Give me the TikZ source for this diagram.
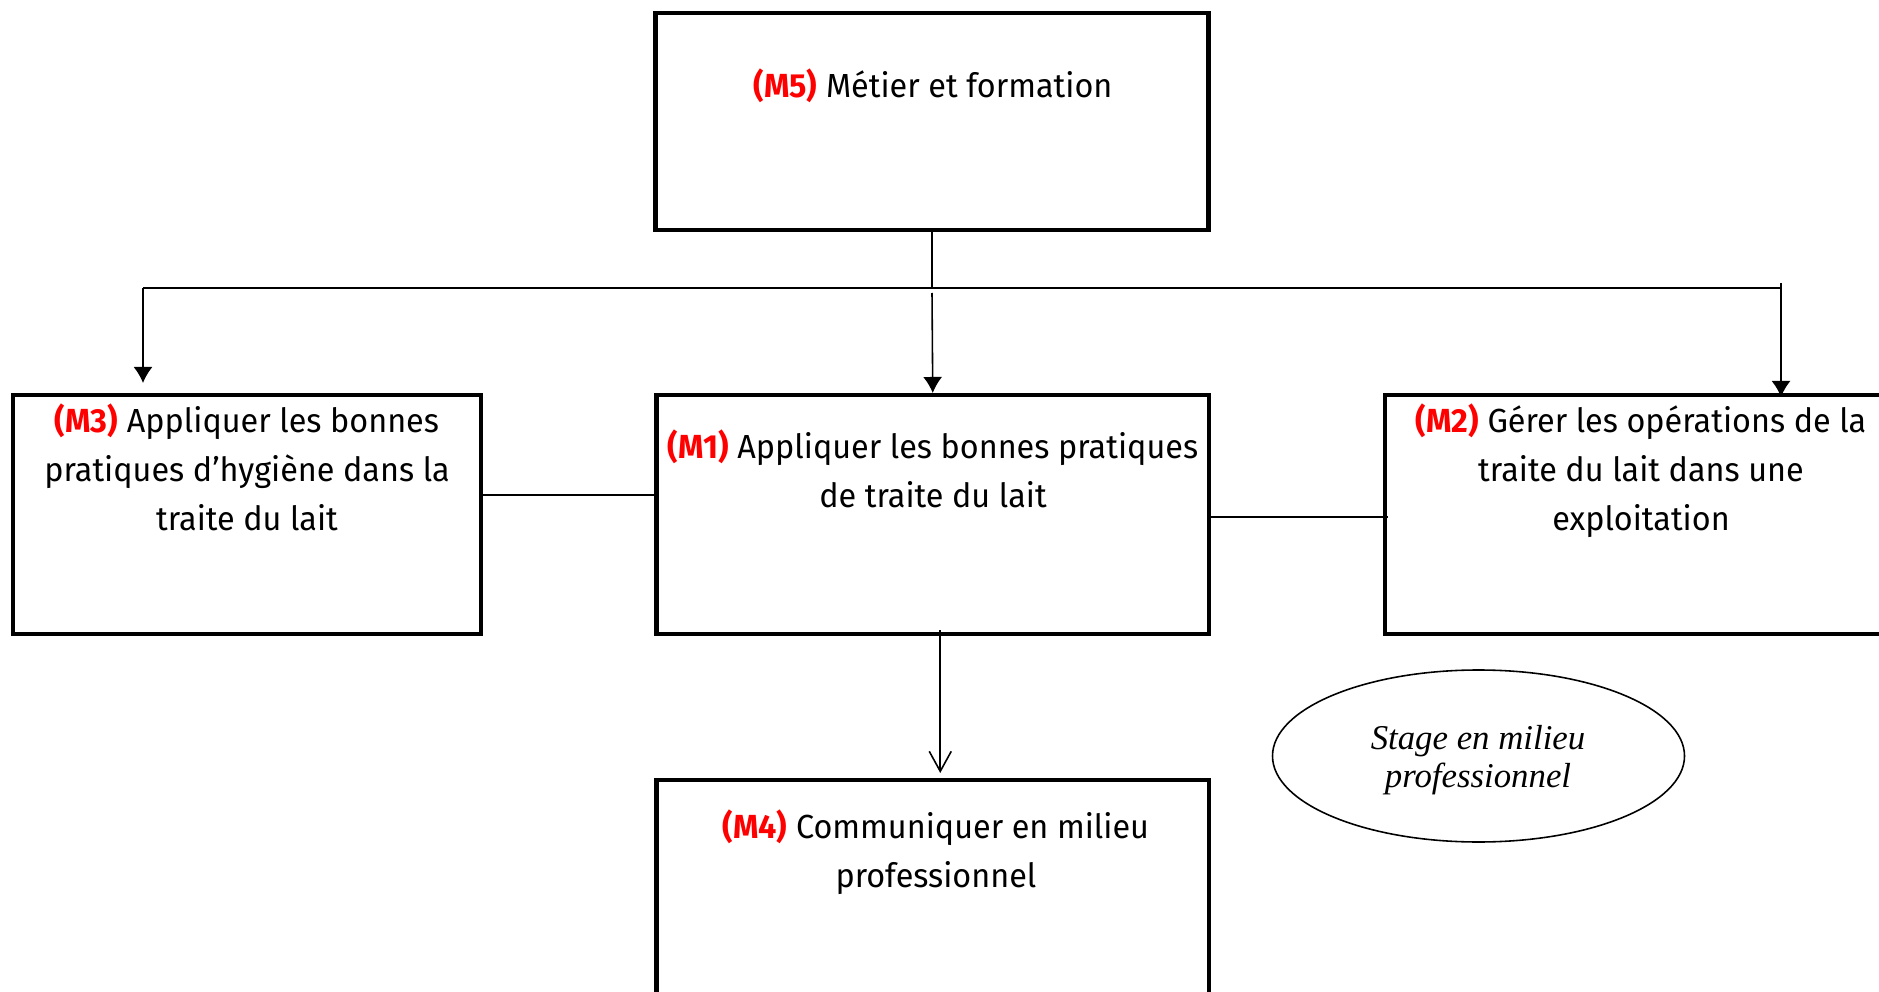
\documentclass[tikz,border=0pt]{standalone}
\usepackage{fontspec}
\setmainfont{Fira Sans}[FakeStretch=0.97]
\newfontfamily\stagefont{Liberation Serif}
\usetikzlibrary{arrows.meta,shapes.geometric}
\newcommand{\mtag}[1]{\textcolor{red}{\bfseries(#1)}}
\tikzset{
    modbox/.style={draw,line width=2.3pt,minimum width=#1,minimum height=4.78cm,inner sep=0pt},
    modtext/.style={anchor=base,align=center,inner sep=0pt,font=\fontsize{19}{27.6}\selectfont},
    link/.style={line width=0.9pt},
}
\begin{document}
\begin{tikzpicture}[>={Latex[length=3.2mm,width=3.8mm]}]
        \useasboundingbox(0,0)rectangle(37.58,-19.84);
        % boxes
        \node[modbox=11.06cm,minimum height=4.34cm](m5)at(18.64,-2.43){};
        \node[modbox=11.05cm](m1)at(18.655,-10.29){};
        \node[modbox=9.36cm](m3)at(4.94,-10.29){};
        \node[modbox=10.24cm](m2)at(32.82,-10.29){};
        \node[modbox=11.05cm](m4)at(18.655,-17.99){};
        \node[draw,ellipse,line width=0.9pt,minimum width=8.24cm,minimum height=3.44cm,inner sep=0pt](stage)at(29.57,-15.12){};
        % texts (base = last line)
        \node[modtext](t5)at(18.66,-1.96){\mtag{M5} Métier et formation};
        \node[modtext](t1)at(18.66,-10.14){\mtag{M1} Appliquer les bonnes pratiques\\de traite du lait};
        \node[modtext](t3)at(4.94,-10.6){\mtag{M3} Appliquer les bonnes\\pratiques d’hygiène dans la\\traite du lait};
        \node[modtext](t2)at(32.82,-10.6){\mtag{M2} Gérer les opérations de la\\traite du lait dans une\\exploitation};
        \node[modtext](t4)at(18.72,-17.74){\mtag{M4} Communiquer en milieu\\professionnel};
        \node[anchor=base,align=center,inner sep=0pt,font=\stagefont\itshape\fontsize{19.8}{21.5}\selectfont](ts)at(29.56,-15.74){Stage en milieu\\professionnel};
        % connectors
        \coordinate(busL)at(2.86,-5.76);
        \coordinate(busR)at(35.62,-5.76);
        \coordinate(busM)at(m5.south|-busL);
        \draw[link](busL)--(busR);
        \draw[link](m5.south)--(busM);
        \draw[link,->]([yshift=-0.1cm]busM)--(m1.north);
        \draw[link,->,shorten >=0.2cm](busL)--(busL|-m3.north);
        \draw[link,->]([yshift=0.1cm]busR)--([yshift=-0.08cm]busR|-m2.north);
        \draw[link]([yshift=0.39cm]m3.east)--([yshift=0.39cm,xshift=0.05cm]m1.west);
        \draw[link]([yshift=-0.05cm]m1.east)--([yshift=-0.05cm,xshift=0.1cm]m2.west);
        \draw[link,-{Straight Barb[length=4mm,width=4.4mm]},shorten >=0.1cm]([xshift=0.15cm,yshift=0.12cm]m1.south)--([xshift=0.15cm]m4.north);
    \end{tikzpicture}
\end{document}
